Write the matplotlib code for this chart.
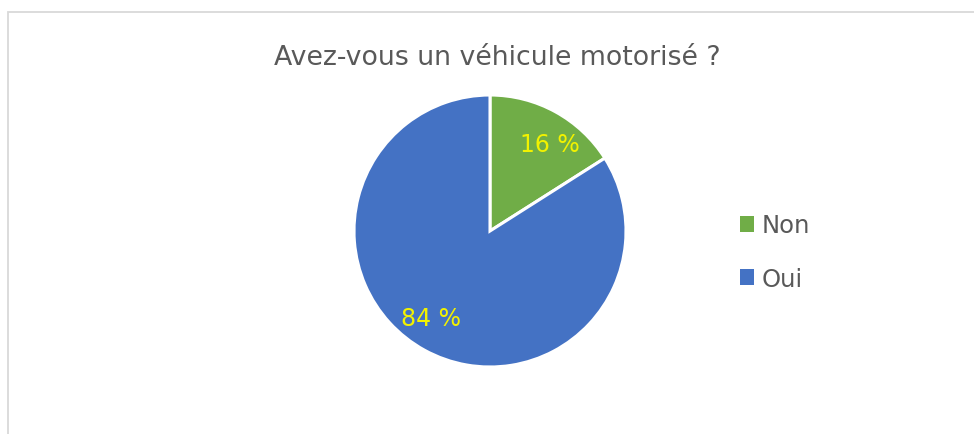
import numpy as np
import matplotlib
matplotlib.use("Agg")
import matplotlib.pyplot as plt
from matplotlib.patches import Patch, Rectangle

categories = ["Non", "Oui"]
values = [16, 84]
colors = ["#70AD47", "#4472C4"]
title = "Avez-vous un véhicule motorisé ?"

W, H = 974, 435
fig = plt.figure(figsize=(W / 100, H / 100), dpi=100)
fig.patch.set_facecolor("white")

# border
fig.add_artist(Rectangle((7.5 / W, -0.05), 1.1, (H - 12.5) / H + 0.05,
                         transform=fig.transFigure, fill=False,
                         edgecolor="#D9D9D9", linewidth=1.3))

cx, cy, r = 490, 232, 136
ax = fig.add_axes([(cx - r) / W, (H - cy - r) / H, 2 * r / W, 2 * r / H])
wedges, texts, autotexts = ax.pie(
    values, colors=colors, startangle=90, counterclock=False,
    autopct=lambda p: f"{p:.0f} %", pctdistance=0.77,
    wedgeprops=dict(edgecolor="white", linewidth=2.2),
    textprops=dict(color="#F2F200", fontsize=17, family="DejaVu Sans"),
)
# nudge labels slightly like Excel's best-fit placement
for w, t in zip(wedges, autotexts):
    mid = np.deg2rad((w.theta1 + w.theta2) / 2 - 5.5)
    t.set_position((0.775 * np.cos(mid), 0.775 * np.sin(mid)))
ax.set_xlim(-1, 1)
ax.set_ylim(-1, 1)
ax.set_aspect("equal")
ax.axis("off")

fig.text(497 / W, 1 - 58 / H, title, ha="center", va="center",
         fontsize=19.3, color="#595959", family="DejaVu Sans")

handles = [Patch(facecolor=c, edgecolor="none") for c in colors]
fig.legend(handles, categories, loc="center left",
           bbox_to_anchor=(718 / W, 1 - 253 / H), frameon=False,
           fontsize=17.5, labelcolor="#595959", handlelength=0.6,
           handleheight=0.6, handletextpad=0.3, labelspacing=1.2)

fig.savefig("out.png", dpi=100, facecolor="white")
